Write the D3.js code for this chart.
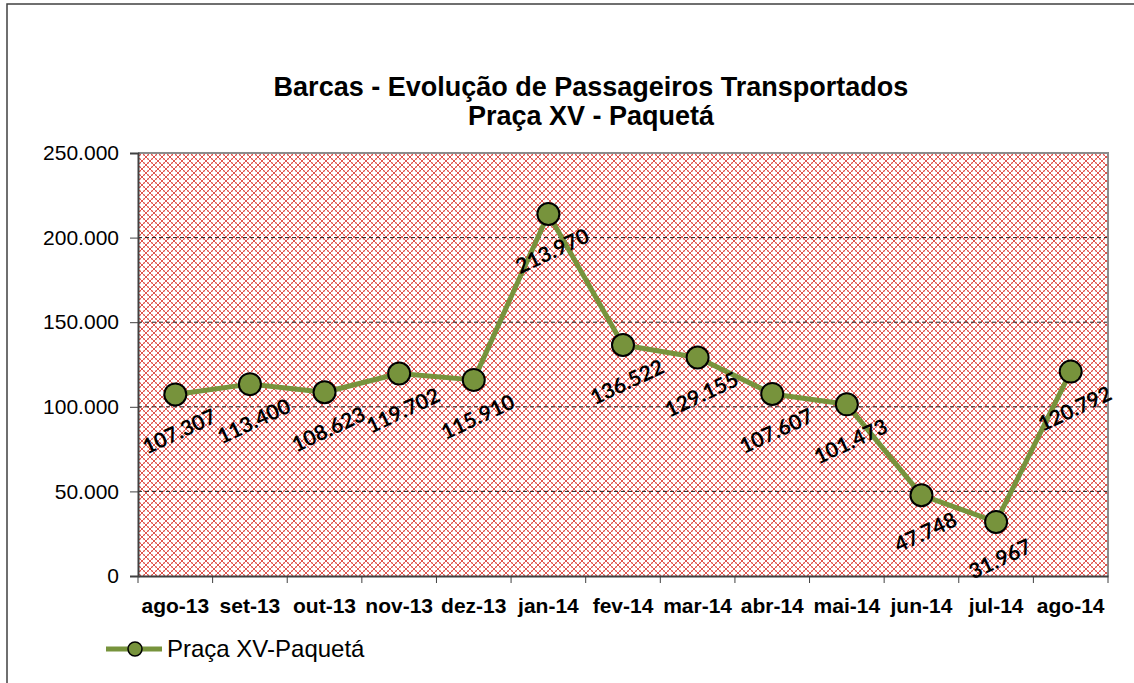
<!DOCTYPE html>
<html>
<head>
<meta charset="utf-8">
<script src="https://cdn.jsdelivr.net/npm/d3@7"></script>
<style>
  body { margin: 0; background: #fff; }
  svg { display: block; }
  .axis text { font-family: Arial, "Liberation Sans", sans-serif; fill: #000; }
</style>
</head>
<body>
<div id="chart"></div>
<script>
// data
const categories = ["ago-13", "set-13", "out-13", "nov-13", "dez-13", "jan-14", "fev-14",
  "mar-14", "abr-14", "mai-14", "jun-14", "jul-14", "ago-14"];
const passengers = [107307, 113400, 108623, 119702, 115910, 213970, 136522,
  129155, 107607, 101473, 47748, 31967, 120792];
const yTicks = [0, 50000, 100000, 150000, 200000, 250000];
const seriesName = "Praça XV-Paquetá";
const titleLines = ["Barcas - Evolução de Passageiros Transportados", "Praça XV - Paquetá"];

const W = 1134, H = 683;
const margin = { top: 153, right: 26, bottom: 107, left: 138 };
const width = W - margin.left - margin.right;
const height = H - margin.top - margin.bottom;
const green = "#77933C";

const svg = d3.select("#chart").append("svg")
  .attr("width", W)
  .attr("height", H);

// outer chart border
svg.append("rect")
  .attr("x", 7).attr("y", 4)
  .attr("width", W + 10).attr("height", H + 10)
  .attr("fill", "#fff")
  .attr("stroke", "#404040")
  .attr("stroke-width", 1.5);

// Excel style pattern fill: white crosses on red, staggered
const defs = svg.append("defs");
const pat = defs.append("pattern")
  .attr("id", "cross")
  .attr("patternUnits", "userSpaceOnUse")
  .attr("width", 8).attr("height", 8);
pat.append("rect").attr("width", 8).attr("height", 8).attr("fill", "#e0534d");
[[0, 0], [8, 0], [0, 8], [8, 8], [4, 4]].forEach(([px, py]) => {
  pat.append("rect").attr("x", px - 2).attr("y", py - 2).attr("width", 4).attr("height", 4).attr("fill", "#f2aeaa");
  pat.append("rect").attr("x", px - 3).attr("y", py - 1).attr("width", 6).attr("height", 2).attr("fill", "#fff");
  pat.append("rect").attr("x", px - 1).attr("y", py - 3).attr("width", 2).attr("height", 6).attr("fill", "#fff");
});

// title
svg.append("g").selectAll("text")
  .data(titleLines)
  .join("text")
  .attr("x", 591)
  .attr("y", (d, i) => 96 + i * 29)
  .attr("text-anchor", "middle")
  .style("font-family", "Arial, 'Liberation Sans', sans-serif")
  .style("font-weight", "bold")
  .style("font-size", "27px")
  .text(d => d);

const g = svg.append("g")
  .attr("transform", `translate(${margin.left},${margin.top})`);

const x = d3.scaleBand()
  .domain(categories)
  .range([0, width]);

const y = d3.scaleLinear()
  .domain([0, 250000])
  .range([height, 0]);

// plot area
g.append("rect")
  .attr("width", width)
  .attr("height", height)
  .attr("fill", "url(#cross)");

// gridlines
g.append("g")
  .selectAll("line")
  .data(yTicks.filter(d => d > 0 && d < 250000))
  .join("line")
  .attr("x1", 0).attr("x2", width)
  .attr("y1", d => y(d)).attr("y2", d => y(d))
  .attr("stroke", "#222")
  .attr("stroke-width", 1)
  .attr("stroke-dasharray", "4,3");

// plot border (top/right)
g.append("path")
  .attr("d", `M0,0H${width}V${height}`)
  .attr("fill", "none")
  .attr("stroke", "#8c8c8c")
  .attr("stroke-width", 2);

const fmt = d3.formatLocale({ decimal: ",", thousands: ".", grouping: [3], currency: ["", ""] }).format(",d");

// y axis
const yAxis = g.append("g")
  .attr("class", "axis")
  .call(d3.axisLeft(y).tickValues(yTicks).tickFormat(fmt).tickSize(8).tickPadding(11));
yAxis.select(".domain").attr("stroke", "#404040").attr("stroke-width", 2);
yAxis.selectAll(".tick line").attr("stroke", "#404040");
yAxis.selectAll("text").style("font-size", "21px");

// x axis with ticks at category boundaries
const xAxis = g.append("g")
  .attr("class", "axis")
  .attr("transform", `translate(0,${height})`)
  .call(d3.axisBottom(x).tickSize(0).tickPadding(22));
xAxis.select(".domain").attr("stroke", "#404040").attr("stroke-width", 2);
xAxis.selectAll("text").style("font-size", "21px").style("font-weight", "bold");
xAxis.append("g")
  .selectAll("line")
  .data(categories.concat([null]))
  .join("line")
  .attr("x1", (d, i) => i * x.step())
  .attr("x2", (d, i) => i * x.step())
  .attr("y1", 0).attr("y2", 7)
  .attr("stroke", "#404040");

// series line
const cx = d => x(d.cat) + x.bandwidth() / 2;
const pts = categories.map((c, i) => ({ cat: c, v: passengers[i] }));

g.append("path")
  .datum(pts)
  .attr("fill", "none")
  .attr("stroke", green)
  .attr("stroke-width", 5)
  .attr("stroke-linejoin", "round")
  .attr("d", d3.line().x(cx).y(d => y(d.v)));

g.append("g")
  .selectAll("circle")
  .data(pts)
  .join("circle")
  .attr("cx", cx)
  .attr("cy", d => y(d.v))
  .attr("r", 11)
  .attr("fill", green)
  .attr("stroke", "#000")
  .attr("stroke-width", 2);

// data labels, rotated
g.append("g")
  .selectAll("text")
  .data(pts)
  .join("text")
  .attr("transform", d => `translate(${cx(d) + 4},${y(d.v) + 37}) rotate(-25)`)
  .attr("text-anchor", "middle")
  .attr("dy", "0.35em")
  .style("font-family", "Lato, 'Noto Sans', sans-serif")
  .style("font-weight", "bold")
  .style("font-size", "21px")
  .text(d => fmt(d.v));

// legend
const legend = svg.append("g").attr("transform", "translate(106,649)");
legend.append("line")
  .attr("x1", 0).attr("x2", 56)
  .attr("stroke", green).attr("stroke-width", 5);
legend.append("circle")
  .attr("cx", 29).attr("r", 7)
  .attr("fill", green).attr("stroke", "#000").attr("stroke-width", 1.5);
legend.append("text")
  .attr("x", 61)
  .attr("dy", "0.35em")
  .style("font-family", "Arial, 'Liberation Sans', sans-serif")
  .style("font-size", "24px")
  .text(seriesName);
</script>
</body>
</html>
